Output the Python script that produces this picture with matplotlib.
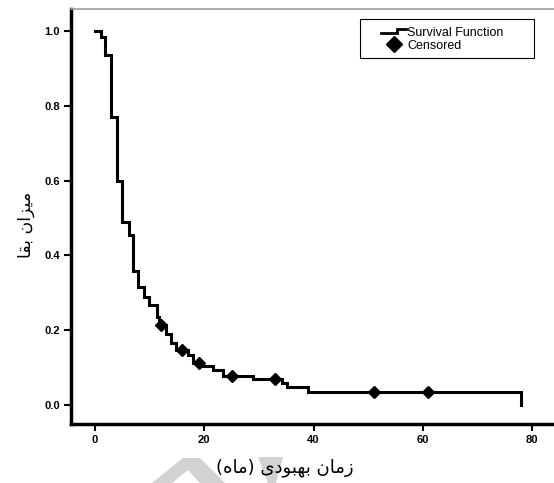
import matplotlib.pyplot as plt
from matplotlib.lines import Line2D
from matplotlib.legend_handler import HandlerBase
from matplotlib.patches import Polygon, Rectangle

# Kaplan-Meier curve (months, survival)
times = [0, 1.0, 1.9, 2.9, 4.0, 4.9, 6.3, 7.0, 7.9, 8.9, 9.9, 11.3, 11.7,
         13.0, 13.9, 14.8, 17.1, 18.0, 19.6, 21.6, 23.4, 28.9, 34.2, 35.1, 39.0, 78.0]
surv = [1.0, 0.983, 0.935, 0.770, 0.600, 0.488, 0.455, 0.357, 0.315, 0.288, 0.267, 0.236, 0.214,
        0.190, 0.165, 0.147, 0.134, 0.111, 0.103, 0.093, 0.078, 0.069, 0.060, 0.049, 0.035, 0.0]

# censored observations
cens_t = [12, 16, 19, 25, 33, 51, 61]
cens_s = [0.214, 0.147, 0.111, 0.078, 0.069, 0.035, 0.035]

x_ticks = [0, 20, 40, 60, 80]
y_ticks = [0.0, 0.2, 0.4, 0.6, 0.8, 1.0]

# Persian labels, pre-shaped (presentation forms, visual order) since matplotlib does no shaping
xlabel = '(\uFEE9\uFE8E\uFEE3) \uFEEF\uFEA9\uFEEE\uFE92\uFEEC\uFE91 \uFEE5\uFE8E\uFEE3\uFEAF'  # زمان بهبودی (ماه)
ylabel = '\uFE8E\uFED8\uFE91 \uFEE5\uFE8D\uFEB0\uFEF4\uFEE3'  # میزان بقا


class StepHandler(HandlerBase):
    # small step icon like the SPSS legend
    def create_artists(self, legend, orig_handle, xdescent, ydescent, width, height, fontsize, trans):
        w, h = width, height
        xs = [0, 0.62 * w, 0.62 * w, w]
        ys = [0.3 * h, 0.3 * h, 0.8 * h, 0.8 * h]
        ln = Line2D(xs, ys, color='black', lw=2, solid_joinstyle='miter', transform=trans)
        return [ln]


W, H = 554, 483
fig = plt.figure(figsize=(5.54, 4.83), dpi=100)
ax = fig.add_axes([71 / W, 59 / H, 1 - 71 / W, (424 - 9) / H])

ax.step(times, surv, where='post', color='black', lw=2.2, solid_joinstyle='miter')
ax.plot(cens_t, cens_s, 'D', color='black', markersize=6.5, linestyle='none')

ax.set_xlim(-4.4, 84)
ax.set_ylim(-0.051, 1.059)
ax.set_xticks(x_ticks)
ax.set_yticks(y_ticks)
ax.set_xticklabels([str(v) for v in x_ticks])
ax.set_yticklabels([f'{v:.1f}' for v in y_ticks])
for lab in ax.get_xticklabels() + ax.get_yticklabels():
    lab.set_fontfamily('Liberation Sans')
    lab.set_fontweight('bold')
    lab.set_fontsize(8)
ax.tick_params(direction='out', length=5, width=1.5, pad=3)

ax.spines['left'].set_linewidth(2.5)
ax.spines['bottom'].set_linewidth(2.5)
ax.spines['right'].set_visible(False)
ax.spines['top'].set_color('#a0a0a0')
ax.spines['top'].set_linewidth(1.2)

# legend: SPSS-style box, drawn separately so the padding can be uneven
h1 = Line2D([], [], color='black')
h2 = Line2D([], [], marker='D', color='black', markersize=8.5, linestyle='none')
leg = ax.legend([h1, h2], ['Survival Function', 'Censored'],
                handler_map={h1: StepHandler()},
                loc='upper left', bbox_to_anchor=(381 / W, 1 - 27 / H), bbox_transform=fig.transFigure,
                prop={'family': 'Liberation Sans', 'size': 9},
                frameon=False, handlelength=2.0, handletextpad=0.1,
                borderpad=0, labelspacing=0.05, borderaxespad=0)
ax.add_patch(Rectangle((360 / W, 1 - 58 / H), 174 / W, 39 / H, transform=fig.transFigure,
                       facecolor='white', edgecolor='black', lw=0.8, zorder=4, clip_on=False))

# light grey watermark shapes under the x label (pixel coords)
wm1 = [(152, 483), (183, 458), (200, 458), (225, 483), (200, 483), (188, 470), (172, 483)]
wm2 = [(258, 457), (283, 457), (276, 483), (268, 483)]
for pts in (wm1, wm2):
    fig.patches.append(Polygon([(x / W, 1 - y / H) for x, y in pts], closed=True,
                               transform=fig.transFigure, facecolor='#d2d2d2',
                               edgecolor='none', zorder=0))

fig.text(285 / W, 1 - 468 / H, xlabel, ha='center', va='center',
         fontsize=13, family='DejaVu Sans', zorder=2)
fig.text(26 / W, 1 - 225 / H, ylabel, ha='center', va='center', rotation=90,
         fontsize=12.5, family='DejaVu Sans')

fig.savefig('out.png', dpi=100)
